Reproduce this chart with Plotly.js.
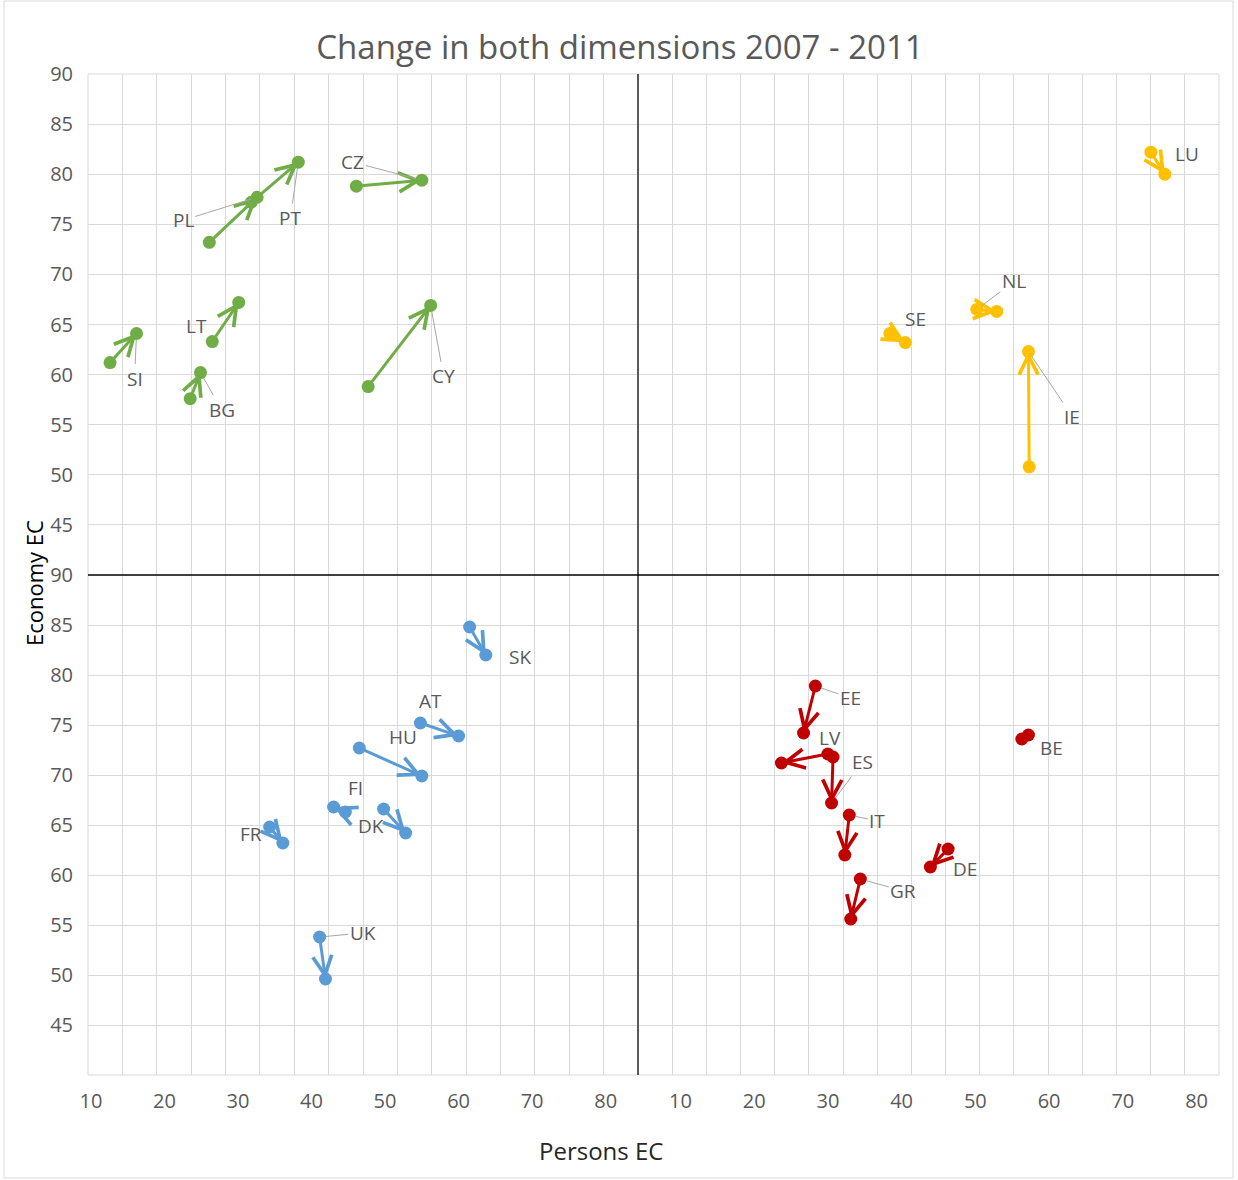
<!DOCTYPE html>
<html><head><meta charset="utf-8">
<script src="https://cdn.plot.ly/plotly-3.0.1.min.js"></script>
<style>html,body{margin:0;padding:0;background:#fff}</style>
</head><body><div id="chart" style="width:1238px;height:1180px"></div>
<script>
// ---------- DATA ----------
// Top-left quadrant (green)
const greenNames = ['SI','BG','LT','PL','PT','CZ','CY'];
const greenX2007 = [12.6, 23.5, 26.5, 26.1, 31.8, 46.1, 47.7];
const greenY2007 = [61.2, 57.6, 63.3, 73.2, 77.2, 78.8, 58.8];
const greenX2011 = [16.2, 24.9, 30.1, 32.6, 38.2, 55.0, 56.2];
const greenY2011 = [64.1, 60.2, 67.2, 77.7, 81.2, 79.4, 66.9];
// Top-right quadrant (yellow)
const yellowNames = ['LU','NL','SE','IE'];
const yellowX2007 = [73.8, 50.2, 38.4, 57.3];
const yellowY2007 = [82.2, 66.5, 64.1, 50.8];
const yellowX2011 = [75.7, 52.9, 40.5, 57.2];
const yellowY2011 = [80.0, 66.3, 63.2, 62.3];
// Bottom-left quadrant (blue)
const blueNames = ['SK','AT','HU','FI','DK','FR','UK'];
const blueX2007 = [61.5, 54.8, 46.5, 44.6, 49.8, 34.3, 41.1];
const blueY2007 = [84.8, 75.2, 72.7, 66.3, 66.6, 64.8, 53.8];
const blueX2011 = [63.7, 60.0, 55.0, 43.0, 52.8, 36.1, 41.9];
const blueY2011 = [82.0, 73.9, 69.9, 66.8, 64.2, 63.2, 49.6];
// Bottom-right quadrant (red)
const redNames = ['EE','LV','ES','IT','GR','DE','BE'];
const redX2007 = [28.3, 30.0, 30.7, 32.9, 34.4, 46.3, 57.2];
const redY2007 = [78.9, 72.1, 71.8, 66.0, 59.6, 62.6, 74.0];
const redX2011 = [26.7, 23.7, 30.5, 32.3, 33.1, 43.9, 56.3];
const redY2011 = [74.2, 71.2, 67.2, 62.0, 55.6, 60.8, 73.6];
// Tick labels
const xTickVals = [10, 20, 30, 40, 50, 60, 70, 80];
const yTickVals = [45, 50, 55, 60, 65, 70, 75, 80, 85, 90];
const chartTitle = 'Change in both dimensions 2007 - 2011';
const xTitle = 'Persons EC';
const yTitle = 'Economy EC';

// ---------- STYLE / PLACEMENT ----------
const W = 1238, H = 1180;
const L = 88, R = 1219, T = 74, B = 1075;
const PW = R - L, PH = B - T;
const midX = 638, midY = 575;
const dL = (midX - L) / PW;        // x-domain split
const dB = (B - midY) / PH;        // y-domain split
const px2x = p => (p - L) / PW;
const px2y = p => (B - p) / PH;

const leftRange = [9.6, 84.4];
const rightRange = [4.25, 83.04];

const groups = [
  {names: greenNames, x0: greenX2007, y0: greenY2007, x1: greenX2011, y1: greenY2011, color: '#70AD47', xa: 'x', ya: 'y2'},
  {names: yellowNames, x0: yellowX2007, y0: yellowY2007, x1: yellowX2011, y1: yellowY2011, color: '#FFC000', xa: 'x2', ya: 'y2'},
  {names: blueNames, x0: blueX2007, y0: blueY2007, x1: blueX2011, y1: blueY2011, color: '#5B9BD5', xa: 'x', ya: 'y'},
  {names: redNames, x0: redX2007, y0: redY2007, x1: redX2011, y1: redY2011, color: '#C00000', xa: 'x2', ya: 'y'}
];

// label placement: anchor point, pixel offset dx, dy, leader line
const labelPlacement = {
  SI: ['end', -2, 45, true], BG: ['end', 21, 37, true], LT: ['start', -16, -16, false],
  PL: ['end', -74, 23, true], PT: ['end', -8, 56, true], CZ: ['end', -69, -18, true], CY: ['end', 13, 71, true],
  LU: ['start', 36, 2, false], NL: ['start', 37, -28, true], SE: ['start', 26, -15, false], IE: ['end', 44, 65, true],
  SK: ['end', 34, 2, false], AT: ['start', 10, -22, false], HU: ['start', 44, -11, false], FI: ['start', 10, -24, false],
  DK: ['start', -13, 17, false], FR: ['start', -19, 7, false], UK: ['start', 43, -4, true],
  EE: ['start', 35, 12, true], LV: ['start', 2, -16, false], ES: ['end', 31, -41, true], IT: ['start', 28, 6, true],
  GR: ['start', 43, 12, true], DE: ['end', 35, 2, false], BE: ['end', 30, 9, false]
};

const traces = [];
const annotations = [];
groups.forEach(g => {
  traces.push({
    type: 'scatter', mode: 'markers', xaxis: g.xa, yaxis: g.ya,
    x: g.x0.concat(g.x1), y: g.y0.concat(g.y1),
    marker: {size: 13, color: g.color}, hoverinfo: 'skip', cliponaxis: false
  });
  g.names.forEach((n, i) => {
    annotations.push({
      xref: g.xa, yref: g.ya, axref: g.xa, ayref: g.ya,
      x: g.x1[i], y: g.y1[i], ax: g.x0[i], ay: g.y0[i],
      text: '', showarrow: true, arrowhead: 5, arrowsize: 1.25, arrowwidth: 3,
      arrowcolor: g.color, standoff: 0, startstandoff: 0
    });
  });
});
groups.forEach(g => {
  g.names.forEach((n, i) => {
    const p = labelPlacement[n];
    const useEnd = p[0] === 'end';
    annotations.push({
      xref: g.xa, yref: g.ya,
      x: useEnd ? g.x1[i] : g.x0[i], y: useEnd ? g.y1[i] : g.y0[i],
      ax: p[1], ay: p[2], axref: 'pixel', ayref: 'pixel',
      text: n, showarrow: true, arrowhead: 0, arrowwidth: 1,
      arrowcolor: p[3] ? '#a6a6a6' : 'rgba(0,0,0,0)', standoff: 6,
      font: {family: 'Open Sans, sans-serif', size: 19, color: '#595959'}
    });
  });
});

annotations.push({
  xref: 'paper', yref: 'paper', x: px2x(601), y: px2y(1150), xanchor: 'center', yanchor: 'middle',
  text: xTitle, showarrow: false, font: {family: 'Open Sans, sans-serif', size: 24, color: '#262626'}
});
annotations.push({
  xref: 'paper', yref: 'paper', x: px2x(34), y: px2y(583), xanchor: 'center', yanchor: 'middle',
  text: yTitle, textangle: -90, showarrow: false, font: {family: 'Open Sans, sans-serif', size: 22, color: '#000000'}
});

const gridColor = '#d9d9d9';
const tickFont = {family: 'Open Sans, sans-serif', size: 20, color: '#595959'};
function xAxis(domain, range, nInt) {
  return {
    domain: domain, range: range, anchor: 'y', tickmode: 'array', tickvals: xTickVals,
    ticks: '', showgrid: false, zeroline: false, showline: false, fixedrange: true,
    tickfont: tickFont, ticklabelstandoff: 12,
    minor: {tick0: range[0], dtick: (range[1] - range[0]) / nInt, showgrid: true, gridcolor: gridColor, gridwidth: 1, ticks: ''}
  };
}
function yAxis(domain) {
  return {
    domain: domain, range: [40, 90], anchor: 'x', tickmode: 'array', tickvals: yTickVals,
    ticks: '', showgrid: true, gridcolor: gridColor, gridwidth: 1, zeroline: false, showline: false,
    fixedrange: true, tickfont: tickFont, ticklabelstandoff: 14
  };
}

const layout = {
  width: W, height: H,
  margin: {l: L, r: W - R, t: T, b: H - B, pad: 0},
  paper_bgcolor: '#ffffff', plot_bgcolor: '#ffffff', showlegend: false,
  font: {family: 'Open Sans, sans-serif', color: '#595959'},
  title: {text: chartTitle, font: {family: 'Open Sans, sans-serif', size: 33, color: '#595959'},
          xref: 'container', yref: 'container', x: 620 / W, y: 1 - 47 / H, xanchor: 'center', yanchor: 'middle'},
  xaxis: xAxis([0, dL], leftRange, 16),
  xaxis2: xAxis([dL, 1], rightRange, 17),
  yaxis: yAxis([0, dB]),
  yaxis2: yAxis([dB, 1]),
  annotations: annotations,
  shapes: [
    {type: 'rect', xref: 'paper', yref: 'paper', x0: 0, x1: 1, y0: 0, y1: 1, line: {color: gridColor, width: 1}, layer: 'below'},
    {type: 'rect', xref: 'paper', yref: 'paper', x0: px2x(4), x1: px2x(1233), y0: px2y(1178), y1: px2y(1), line: {color: '#d9d9d9', width: 1}, layer: 'below'},
    {type: 'line', xref: 'paper', yref: 'paper', x0: dL, x1: dL, y0: 0, y1: 1, line: {color: '#595959', width: 2}},
    {type: 'line', xref: 'paper', yref: 'paper', x0: 0, x1: 1, y0: dB, y1: dB, line: {color: '#000000', width: 1.5}}
  ]
};

Plotly.newPlot('chart', traces, layout, {displayModeBar: false, staticPlot: true});
</script>
</body></html>
